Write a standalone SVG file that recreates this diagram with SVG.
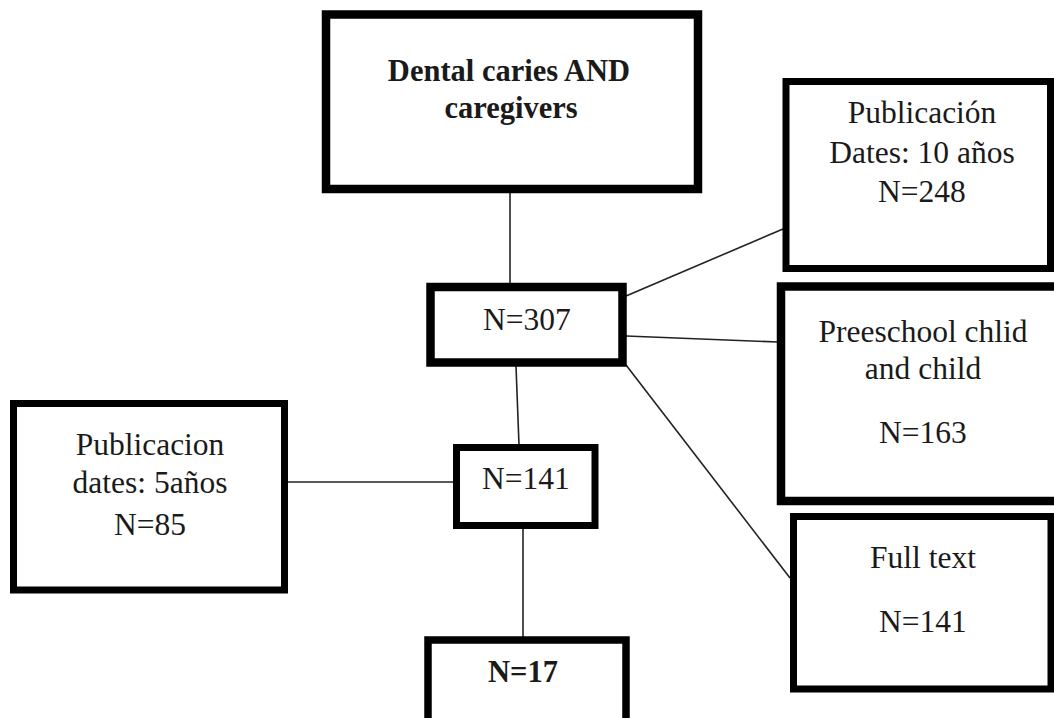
<svg xmlns="http://www.w3.org/2000/svg" width="1054" height="718" viewBox="0 0 1054 718">
<style>
.box{fill:#fff;stroke:#000}
.t{font-family:"Liberation Serif","Times New Roman",serif;font-size:31.5px;fill:#1a1a1a;text-anchor:middle}
.b{font-weight:bold;font-size:30.5px}
.c{stroke:#222;stroke-width:1.6;fill:none}
</style>
<rect width="1054" height="718" fill="#fff"/>
<g id="connectors">
<line class="c" x1="510" y1="192" x2="510" y2="284"/>
<line class="c" x1="516" y1="366" x2="519" y2="445"/>
<line class="c" x1="287" y1="482" x2="454" y2="482"/>
<line class="c" x1="523" y1="528" x2="523" y2="638"/>
<line class="c" x1="626" y1="296" x2="783" y2="229"/>
<line class="c" x1="626" y1="336" x2="778" y2="342"/>
<line class="c" x1="626" y1="365" x2="790" y2="578"/>
</g>
<g id="n-top">
<rect class="box" x="326" y="14.5" width="372" height="174.5" stroke-width="8.5"/>
<text class="t b" x="509" y="81">Dental caries AND</text>
<text class="t b" x="511" y="118">caregivers</text>
</g>
<g id="n307">
<rect class="box" x="430.5" y="287" width="192" height="75.5" stroke-width="8.5"/>
<text class="t" x="527" y="330">N=307</text>
</g>
<g id="n248">
<rect class="box" x="786" y="81.5" width="264.5" height="187" stroke-width="7"/>
<text class="t" x="922" y="123">Publicación</text>
<text class="t" x="922" y="163">Dates: 10 años</text>
<text class="t" x="922" y="202">N=248</text>
</g>
<g id="n163">
<rect class="box" x="781" y="286.5" width="290" height="214.5" stroke-width="8.5"/>
<text class="t" x="923" y="342">Preeschool chlid</text>
<text class="t" x="923" y="379">and child</text>
<text class="t" x="923" y="443">N=163</text>
</g>
<g id="nfull">
<rect class="box" x="793.5" y="516.5" width="257.5" height="172.5" stroke-width="7"/>
<text class="t" x="923" y="568">Full text</text>
<text class="t" x="923" y="632">N=141</text>
</g>
<g id="n85">
<rect class="box" x="13.5" y="403.5" width="271" height="186.5" stroke-width="7"/>
<text class="t" x="150" y="455">Publicacion</text>
<text class="t" x="150" y="493">dates: 5años</text>
<text class="t" x="150" y="535">N=85</text>
</g>
<g id="n141">
<rect class="box" x="456.5" y="447.5" width="138.5" height="78" stroke-width="7"/>
<text class="t" x="526" y="489">N=141</text>
</g>
<g id="n17">
<rect class="box" x="428" y="640" width="198" height="90" stroke-width="7.5"/>
<text class="t b" x="523" y="682">N=17</text>
</g>
</svg>
